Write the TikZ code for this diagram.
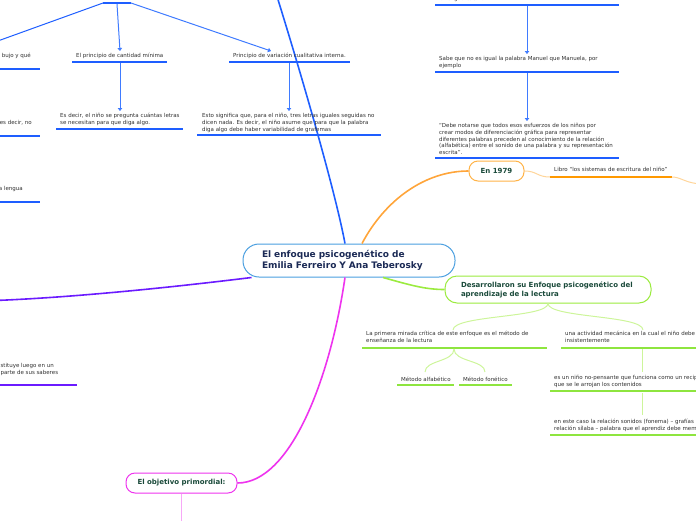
\documentclass[tikz,border=0pt]{standalone}
\usepackage{fontspec}
\setmainfont{DejaVu Sans}
\usetikzlibrary{arrows.meta}
\definecolor{bblue}{HTML}{1E5EFF}
\definecolor{ablue}{HTML}{3F7BFF}
\definecolor{cblue}{HTML}{4A9FE0}
\definecolor{navy}{HTML}{1B2A55}
\definecolor{dgreen}{HTML}{1A4A3A}
\definecolor{txtgray}{HTML}{303030}
\definecolor{oran}{HTML}{FFA53A}
\definecolor{oranb}{HTML}{FFB347}
\definecolor{oranu}{HTML}{FF9900}
\definecolor{oranl}{HTML}{FFD59A}
\definecolor{grn}{HTML}{9BEB3F}
\definecolor{grnu}{HTML}{8EE53F}
\definecolor{grnl}{HTML}{CDF59A}
\definecolor{purp}{HTML}{6B1BFF}
\definecolor{magn}{HTML}{EE33EE}
\definecolor{pinkl}{HTML}{F7A8F7}
\begin{document}
\begin{tikzpicture}[x=1pt,y=-1pt,
  txt/.style={inner sep=0pt, font=\fontsize{5.5}{6.7}\selectfont, text=txtgray, align=left},
  ulb/.style={draw=bblue, line width=1.3pt},
  ulo/.style={draw=oranu, line width=1.3pt},
  ulg/.style={draw=grnu, line width=1.3pt},
  ulp/.style={draw=purp, line width=1.3pt},
  arrb/.style={draw=ablue, line width=1pt, -{Triangle[width=4.5pt,length=3pt]}},
  lineb/.style={draw=bblue, line width=1pt},
  topic/.style={draw, line width=1pt, fill=white, text=dgreen, font=\fontsize{7}{9}\bfseries, inner sep=0pt},
  branch/.style={line width=1.6pt},
  thin/.style={line width=1pt}
]
\useasboundingbox (0,0) rectangle (696,520);
\clip (0,0) rectangle (696,520);

% ---------- central node
\node[draw=cblue, line width=1pt, rounded corners=16pt, fill=white,
      minimum width=212pt, minimum height=33pt, inner xsep=19pt, inner ysep=0pt,
      text width=174pt, align=left, text=navy, font=\fontsize{9}{11}\bfseries]
      (center) at (349,260.5) {El enfoque psicogenético de\\Emilia Ferreiro Y Ana Teberosky};

% ---------- main topic nodes
\node[topic, draw=oranb, rounded corners=9pt, minimum width=55pt, minimum height=20pt]
      (en) at (496.5,171) {En 1979};
\node[topic, draw=grn, rounded corners=12pt, minimum width=206pt, minimum height=27pt,
      inner xsep=16pt, text width=174pt, align=left]
      (des) at (548,289.5) {Desarrollaron su Enfoque psicogenético del\\aprendizaje de la lectura};
\node[topic, draw=magn, rounded corners=9pt, minimum width=111pt, minimum height=20pt]
      (obj) at (181.5,483) {El objetivo primordial:};

% ---------- main branches
\coordinate (btop) at (275,-10);
\coordinate (pleft) at (-5,300.5);
\draw[bblue, branch] ([xshift=-4pt]center.north) .. controls (335,190) and (300,70) .. (btop);
\draw[oran, branch] ([xshift=13pt]center.north) .. controls (385,200) and (425,171) .. (en.west);
\draw[grn, branch] ([xshift=34pt]center.south) .. controls (410,285) and (425,289.5) .. (des.west);
\draw[purp, branch] ([xshift=9pt]center.south west) .. controls (150,290) and (60,298) .. (pleft);
\draw[magn, branch] ([xshift=-4pt]center.south) .. controls (330,380) and (290,483) .. (obj.east);
\coordinate (pinkend) at (181.5,530);
\draw[pinkl, line width=1pt] (obj.south) -- (pinkend);

% ---------- top-left blue cluster
\coordinate (hubL) at (103,3);
\coordinate (hubR) at (131,3);
\coordinate (hubM) at (117,4);
\draw[bblue, line width=1.5pt] (hubL) -- (hubR);
\coordinate (offL) at (-5,42);
\draw[lineb] (hubL) -- (offL);

\node[txt, anchor=north west] (pcm) at (76,53.3) {El principio de cantidad mínima};
\coordinate (pcmL) at (72,62); \coordinate (pcmR) at (167,62);
\coordinate (pcmIn) at (120,51); \coordinate (pcmOut) at (120,63);
\draw[ulb] (pcmL) -- (pcmR);
\draw[arrb] (hubM) -- (pcmIn);

\node[txt, anchor=north west] (esd) at (60,113.3) {Es decir, el niño se pregunta cuántas letras\\se necesitan para que diga algo.};
\coordinate (esdL) at (56,129); \coordinate (esdR) at (183,129);
\coordinate (esdIn) at (120,111);
\draw[ulb] (esdL) -- (esdR);
\draw[arrb] (pcmOut) -- (esdIn);

\node[txt, anchor=north west] (pvc) at (233,53.3) {Principio de variación cualitativa interna.};
\coordinate (pvcL) at (229,62); \coordinate (pvcR) at (350,62);
\coordinate (pvcIn) at (271,51); \coordinate (pvcOut) at (289,63);
\draw[ulb] (pvcL) -- (pvcR);
\draw[arrb] (hubR) -- (pvcIn);

\node[txt, anchor=north west] (est) at (202,113.3) {Esto significa que, para el niño, tres letras iguales seguidas no\\dicen nada. Es decir, el niño asume que para que la palabra\\diga algo debe haber variabilidad de grafemas};
\coordinate (estL) at (197,135); \coordinate (estR) at (381,135);
\coordinate (estIn) at (289,111);
\draw[ulb] (estL) -- (estR);
\draw[arrb] (pvcOut) -- (estIn);

% left partial nodes
\node[txt, anchor=north east] (lp1) at (31,53.3) {bujo y qué};
\coordinate (lp1L) at (-2,69); \coordinate (lp1R) at (40,69);
\draw[ulb] (lp1L) -- (lp1R);
\node[txt, anchor=north east] (lp2) at (32,120.6) {es decir, no};
\coordinate (lp2L) at (-2,136); \coordinate (lp2R) at (40,136);
\draw[ulb] (lp2L) -- (lp2R);
\node[txt, anchor=north east] (lp3) at (23,186.6) {a lengua};
\coordinate (lp3L) at (-2,202); \coordinate (lp3R) at (40,202);
\draw[ulb] (lp3L) -- (lp3R);

% ---------- top-right blue column
\node[txt, anchor=north west] (lle) at (439,-3.6) {la lengua escrita};
\coordinate (lleL) at (435,5); \coordinate (lleR) at (619,5);
\coordinate (lleOut) at (527,6);
\draw[ulb] (lleL) -- (lleR);

\node[txt, anchor=north west] (sab) at (439,56.6) {Sabe que no es igual la palabra Manuel que Manuela, por\\ejemplo};
\coordinate (sabL) at (435,72); \coordinate (sabR) at (619,72);
\coordinate (sabIn) at (527,54); \coordinate (sabOut) at (527,73);
\draw[ulb] (sabL) -- (sabR);
\draw[arrb] (lleOut) -- (sabIn);

\node[txt, anchor=north west] (deb) at (439,123.3) {“Debe notarse que todos esos esfuerzos de los niños por\\crear modos de diferenciación gráfica para representar\\diferentes palabras preceden al conocimiento de la relación\\(alfabética) entre el sonido de una palabra y su representación\\escrita”.};
\coordinate (debL) at (435,158); \coordinate (debR) at (619,158);
\coordinate (debIn) at (527,121);
\draw[ulb] (debL) -- (debR);
\draw[arrb] (sabOut) -- (debIn);

% ---------- orange: libro
\node[txt, anchor=north west] (lib) at (554,167.3) {Libro “los sistemas de escritura del niño”};
\coordinate (libL) at (550,177); \coordinate (libR) at (672,177);
\coordinate (liboff) at (705,184);
\draw[oranl, line width=1pt] (en.east) .. controls (537,171) and (537,177) .. (libL);
\draw[ulo] (libL) -- (libR);
\draw[oranl, line width=1pt] (libR) .. controls (682,177) and (685,184) .. (liboff);

% ---------- green cluster
\node[txt, anchor=north west] (pmc) at (366,331.3) {La primera mirada crítica de este enfoque es el método de\\enseñanza de la lectura};
\coordinate (pmcL) at (362,348); \coordinate (pmcR) at (547,348);
\coordinate (pmcIn) at (453,330); \coordinate (pmcOut) at (454,349);
\draw[ulg] (pmcL) -- (pmcR);

\node[txt, anchor=north west] (act) at (565,331.3) {una actividad mecánica en la cual el niño debe\\insistentemente};
\coordinate (actL) at (561,348); \coordinate (actR) at (705,348);
\coordinate (actIn) at (643,330); \coordinate (actOut) at (642,349);
\draw[ulg] (actL) -- (actR);

\draw[grnl, thin] (des.south) .. controls (548,318) and (453,315) .. (pmcIn);
\draw[grnl, thin] (des.south) .. controls (548,318) and (643,315) .. (actIn);

\node[txt, anchor=north west] (alf) at (401,376.6) {Método alfabético};
\coordinate (alfL) at (397,385); \coordinate (alfR) at (454,385);
\coordinate (alfIn) at (425,372);
\draw[ulg] (alfL) -- (alfR);
\node[txt, anchor=north west] (fon) at (463,376.6) {Método fonético};
\coordinate (fonL) at (459,385); \coordinate (fonR) at (512,385);
\coordinate (fonIn) at (485,372);
\draw[ulg] (fonL) -- (fonR);
\draw[grnl, thin] (pmcOut) .. controls (454,362) and (425,360) .. (alfIn);
\draw[grnl, thin] (pmcOut) .. controls (454,362) and (485,360) .. (fonIn);

\node[txt, anchor=north west] (nin) at (554,375.2) {es un niño no-pensante que funciona como un recipiente\\que se le arrojan los contenidos};
\coordinate (ninL) at (550,391); \coordinate (ninR) at (705,391);
\coordinate (ninIn) at (642,372); \coordinate (ninOut) at (642,393);
\draw[ulg] (ninL) -- (ninR);
\draw[grnl, thin] (actOut) -- (ninIn);

\node[txt, anchor=north west] (cas) at (554,419.2) {en este caso la relación sonidos (fonema) – grafías\\relación sílaba – palabra que el aprendiz debe memorizar};
\coordinate (casL) at (550,435); \coordinate (casR) at (705,435);
\coordinate (casIn) at (642,415);
\draw[ulg] (casL) -- (casR);
\draw[grnl, thin] (ninOut) -- (casIn);

% ---------- purple partial node
\node[txt, anchor=north east] (sab2) at (59,363.6) {stituye luego en un\hspace*{5pt}\\parte de sus saberes};
\coordinate (sab2L) at (-2,385); \coordinate (sab2R) at (77,385);
\draw[ulp] (sab2L) -- (sab2R);
\end{tikzpicture}
\end{document}
